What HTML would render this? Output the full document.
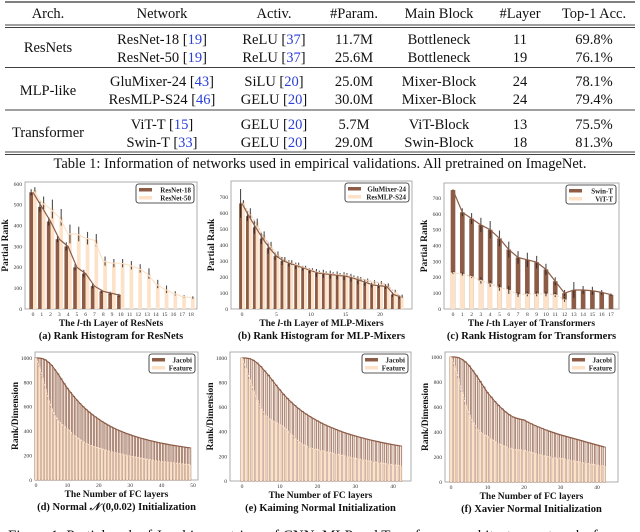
<!DOCTYPE html>
<html><head><meta charset="utf-8"><style>
html,body{margin:0;padding:0;background:#fff;width:640px;height:532px;overflow:hidden}
svg{display:block}
text{font-family:"Liberation Serif",serif}
</style></head><body>
<svg id="fig" width="640" height="532" viewBox="0 0 640 532" xmlns="http://www.w3.org/2000/svg">
<g id="table" font-size="14.5" fill="#111">
<line x1="5" y1="2" x2="635" y2="2" stroke="#000" stroke-width="1"/>
<line x1="5" y1="25" x2="635" y2="25" stroke="#000" stroke-width="0.8"/>
<line x1="5" y1="27.5" x2="635" y2="27.5" stroke="#000" stroke-width="0.8"/>
<line x1="5" y1="67.5" x2="635" y2="67.5" stroke="#000" stroke-width="0.8"/>
<line x1="5" y1="110" x2="635" y2="110" stroke="#000" stroke-width="0.8"/>
<line x1="5" y1="152" x2="635" y2="152" stroke="#000" stroke-width="0.8"/>
<line x1="5" y1="154.5" x2="635" y2="154.5" stroke="#000" stroke-width="0.8"/>
<g text-anchor="middle">
<text x="48" y="18">Arch.</text>
<text x="162" y="18">Network</text>
<text x="274" y="18">Activ.</text>
<text x="354" y="18">#Param.</text>
<text x="439" y="18">Main Block</text>
<text x="520" y="18">#Layer</text>
<text x="594" y="18">Top-1 Acc.</text>
<text x="48" y="52">ResNets</text>
<text x="48" y="95">MLP-like</text>
<text x="48" y="137">Transformer</text>
<text x="162" y="44">ResNet-18 [<tspan fill="#2b3fd6">19</tspan>]</text>
<text x="162" y="62">ResNet-50 [<tspan fill="#2b3fd6">19</tspan>]</text>
<text x="162" y="86">GluMixer-24 [<tspan fill="#2b3fd6">43</tspan>]</text>
<text x="162" y="104">ResMLP-S24 [<tspan fill="#2b3fd6">46</tspan>]</text>
<text x="162" y="129">ViT-T [<tspan fill="#2b3fd6">15</tspan>]</text>
<text x="162" y="147">Swin-T [<tspan fill="#2b3fd6">33</tspan>]</text>
<text x="274" y="44">ReLU [<tspan fill="#2b3fd6">37</tspan>]</text>
<text x="274" y="62">ReLU [<tspan fill="#2b3fd6">37</tspan>]</text>
<text x="274" y="86">SiLU [<tspan fill="#2b3fd6">20</tspan>]</text>
<text x="274" y="104">GELU [<tspan fill="#2b3fd6">20</tspan>]</text>
<text x="274" y="129">GELU [<tspan fill="#2b3fd6">20</tspan>]</text>
<text x="274" y="147">GELU [<tspan fill="#2b3fd6">20</tspan>]</text>
<text x="354" y="44">11.7M</text><text x="354" y="62">25.6M</text>
<text x="354" y="86">25.0M</text><text x="354" y="104">30.0M</text>
<text x="354" y="129">5.7M</text><text x="354" y="147">29.0M</text>
<text x="439" y="44">Bottleneck</text><text x="439" y="62">Bottleneck</text>
<text x="439" y="86">Mixer-Block</text><text x="439" y="104">Mixer-Block</text>
<text x="439" y="129">ViT-Block</text><text x="439" y="147">Swin-Block</text>
<text x="520" y="44">11</text><text x="520" y="62">19</text>
<text x="520" y="86">24</text><text x="520" y="104">24</text>
<text x="520" y="129">13</text><text x="520" y="147">18</text>
<text x="594" y="44">69.8%</text><text x="594" y="62">76.1%</text>
<text x="594" y="86">78.1%</text><text x="594" y="104">79.4%</text>
<text x="594" y="129">75.5%</text><text x="594" y="147">81.3%</text>
</g>
<text x="320" y="168" text-anchor="middle" font-size="14.5">Table 1: Information of networks used in empirical validations. All pretrained on ImageNet.</text>
</g>
<text x="8" y="540" font-size="15" fill="#111">Figure 1: Partial rank of Jacobian matrices of CNN, MLP and Transformer architecture networks for</text>
</svg>
<script>
// ---- data ----
const resnet18 = [560,490,420,335,300,200,170,110,85,75,65];
const resnet18Err = [15,25,20,15,20,15,18,12,8,8,8];
const resnet50 = [570,510,480,440,360,360,340,330,230,220,220,210,195,170,120,95,75,60,55];
const resnet50Err = [15,30,45,40,45,35,30,30,22,20,20,20,20,25,20,18,10,6,6];
const gluMixer = [660,580,510,440,380,330,300,285,270,255,240,225,220,215,210,205,195,180,165,150,145,140,90,75];
const gluErr = [90,30,40,35,35,25,25,20,20,15,15,25,25,25,25,25,25,25,20,15,15,15,15,10];
const resMLP = [670,600,540,460,400,340,310,290,275,260,245,230,225,220,215,215,200,190,180,170,165,150,110,80];
const resMLPErr = [10,30,25,25,20,20,15,15,15,10,10,10,10,10,10,10,10,10,10,10,10,10,10,10];
const swinT = [750,610,570,530,500,445,375,325,310,295,250,175,100,120,120,115,105,90];
const swinErr = [5,25,35,45,55,50,50,40,45,40,35,25,20,50,25,25,15,8];
const vitT = [230,220,205,180,160,135,120,90,95,95,95,90,60];
const vitErr = [10,10,10,20,20,20,25,15,15,15,15,15,15];
const jacobiD = [1000,1000,995,985,965,940,905,870,830,790,752,718,686,656,628,602,578,556,535,516,498,481,465,450,436,423,411,400,390,380,371,362,354,346,339,332,325,319,313,307,302,297,292,287,283,279,275,271,267,264];
const featureD = [1000,930,840,750,660,590,530,490,460,440,420,395,370,350,332,315,300,288,278,270,262,254,246,239,232,226,220,214,208,202,196,191,186,181,176,171,167,163,159,155,152,149,146,143,140,137,134,131,128,125];
const jacobiE = [1000,1000,995,982,960,930,895,860,820,780,742,705,672,642,614,588,565,544,524,506,489,472,457,443,430,418,406,395,385,375,366,357,349,341,334,327,320,313,307,301,295,290,285];
const featureE = [1000,920,830,740,660,590,540,510,490,475,462,440,410,380,350,320,300,285,270,262,255,248,240,233,226,219,212,205,198,191,184,178,172,166,160,155,150,145,140,136,132,128,125];
const jacobiF = [1000,1000,995,982,960,930,890,850,805,760,715,680,645,614,586,560,538,520,510,502,496,480,466,452,440,428,417,406,396,386,377,369,361,353,345,337,329,320,312,304,296,288,280];
const featureF = [1000,930,830,720,620,540,480,430,400,380,365,345,325,308,294,282,272,264,258,256,255,245,236,228,220,213,206,200,194,192,190,184,178,172,166,160,155,150,145,140,135,131,128];
const ticksA = [0,1,2,3,4,5,6,7,8,9,10,11,12,13,14,15,16,17,18];
const ticksB = [0,5,10,15,20];
const ticksC = [0,1,2,3,4,5,6,7,8,9,10,11,12,13,14,15,16,17];
const ticksBottom = [0,10,20,30,40,50];
const ticksBottomE = [0,10,20,30,40];
const yTicksA = [0,100,200,300,400,500,600];
const yTicks7 = [0,100,200,300,400,500,600,700];
const yTicksBottom = [0,200,400,600,800,1000];

const NS = 'http://www.w3.org/2000/svg';
const svg = document.getElementById('fig');
const DARK = '#8d5c47', LIGHT = '#fde2c8', ERR = '#222';
function mk(tag, attrs, parent){
  const e = document.createElementNS(NS, tag);
  for (const k in attrs) e.setAttribute(k, attrs[k]);
  (parent||svg).appendChild(e);
  return e;
}
function chart(c){
  const g = mk('g', {});
  
  
  const sx = v => c.x0 + (v - c.xmin) * (c.x1 - c.x0) / (c.xmax - c.xmin);
  const sy = v => c.y0 - v * (c.y0 - c.yTop) / c.ymax;
  const fr = mk('rect', {x:c.L, y:c.T, width:c.R-c.L, height:c.B-c.T, fill:'#fff', stroke:'#999', 'stroke-width':0.8}, g);
  
  
  const step = (c.x1 - c.x0)/(c.xmax - c.xmin);
  c.series.forEach((s, si) => {
    const bw = step * c.bw;
    s.data.forEach((v, i) => {
      const x = sx(i) + (c.off ? (si===0 ? -bw*0.5 : bw*0.5) : 0);
      const r = mk('rect', {x:x-bw/2, y:sy(v), width:bw, height:c.y0-sy(v), fill:s.fill, stroke:s.stroke||'none', 'stroke-width':s.sw||0}, g);
      
      
      if (s.err){
        const e = mk('line', {x1:x, x2:x, y1:sy(v - s.err[i]), y2:sy(v + s.err[i]), stroke:ERR, 'stroke-width':1.1, opacity:0.8}, g);
        
        
      }
    });
  });
  c.series.forEach((s) => {
    const pts = s.data.map((v, i) => sx(i) + ',' + sy(v)).join(' ');
    const p = mk('polyline', {points:pts, fill:'none', stroke:s.line, 'stroke-width':1.2, 'stroke-dasharray':s.dash||'none'}, g);
    
    
  });
  c.xt.forEach(t => {
    const tx = mk('text', {x:sx(t), y:c.B+7, 'font-size':5.6, 'text-anchor':'middle', fill:'#333', 'font-family':'Liberation Sans, sans-serif'}, g);
    tx.textContent = t;
    
    
  });
  c.yt.forEach(t => {
    const ty = mk('text', {x:c.L-3, y:sy(t)+1.9, 'font-size':5.6, 'text-anchor':'end', fill:'#333', 'font-family':'Liberation Sans, sans-serif'}, g);
    ty.textContent = t;
    
    
  });
  const xl = mk('text', {x:(c.L+c.R)/2, y:c.B+17, 'font-size':9.5, 'font-weight':'bold', 'text-anchor':'middle', fill:'#111'}, g);
  xl.innerHTML = c.xlabel;
  
  
  const yl = mk('text', {x:0, y:0, 'font-size':9.5, 'font-weight':'bold', 'text-anchor':'middle', fill:'#111', transform:'translate(' + (c.L-17) + ',' + ((c.T+c.B)/2) + ') rotate(-90)'}, g);
  yl.textContent = c.ylabel;
  
  
  const st = mk('text', {x:(c.L+c.R)/2, y:c.B+30, 'font-size':10.5, 'font-weight':'bold', 'text-anchor':'middle', fill:'#111'}, g);
  st.innerHTML = c.sub;
  
  
  const lw = c.lw, lx = c.R - lw - 3, ly = c.T + 2;
  const lg = mk('g', {}, g);
  
  
  mk('rect', {x:lx, y:ly, width:lw, height:19, rx:2.5, fill:'#fff', stroke:'#222', 'stroke-width':0.8}, lg);
  c.series.forEach((s, si) => {
    const le = mk('g', {}, lg);
    
    
    mk('rect', {x:lx+3, y:ly+4+si*8, width:13, height:3.5, fill:s.legend}, le);
    const t = mk('text', {x:lx+lw-3, y:ly+8.3+si*8, 'font-size':7, 'font-weight':'bold', 'text-anchor':'end', fill:'#222'}, le);
    t.textContent = s.label;
  });
}
chart({name:'chart-a-resnets', L:25, R:197, T:182, B:309, x0:33, x1:191, xmin:0, xmax:18, y0:309, yTop:184, ymax:600,
  bw:0.42, off:true, xt:ticksA, yt:yTicksA, lw:58,
  xlabel:'The <tspan font-style="italic">l</tspan>-th Layer of ResNets', ylabel:'Partial Rank', sub:'(a) Rank Histogram for ResNets',
  series:[
   {key:'resnet-18', label:'ResNet-18', data:resnet18, err:resnet18Err, fill:DARK, line:DARK, legend:DARK},
   {key:'resnet-50', label:'ResNet-50', data:resnet50, err:resnet50Err, fill:LIGHT, line:LIGHT, legend:LIGHT}]});
chart({name:'chart-b-mlp-mixers', L:231, R:412, T:181, B:309, x0:242, x1:380, xmin:0, xmax:20, y0:309, yTop:197, ymax:700,
  bw:0.42, off:true, xt:ticksB, yt:yTicks7, lw:64,
  xlabel:'The <tspan font-style="italic">l</tspan>-th Layer of MLP-Mixers', ylabel:'Partial Rank', sub:'(b) Rank Histogram for MLP-Mixers',
  series:[
   {key:'glumixer-24', label:'GluMixer-24', data:gluMixer, err:gluErr, fill:DARK, line:DARK, legend:DARK},
   {key:'resmlp-s24', label:'ResMLP-S24', data:resMLP, err:resMLPErr, fill:LIGHT, line:'#e8c2a4', dash:'2,1.5', legend:LIGHT}]});
chart({name:'chart-c-transformers', L:444, R:619, T:183, B:309, x0:453, x1:611, xmin:0, xmax:17, y0:309, yTop:198, ymax:700,
  bw:0.5, off:false, xt:ticksC, yt:yTicks7, lw:50,
  xlabel:'The <tspan font-style="italic">l</tspan>-th Layer of Transformers', ylabel:'Partial Rank', sub:'(c) Rank Histogram for Transformers',
  series:[
   {key:'swin-t', label:'Swin-T', data:swinT, err:swinErr, fill:DARK, line:DARK, legend:DARK},
   {key:'vit-t', label:'ViT-T', data:vitT, err:vitErr, fill:LIGHT, line:'#f5d8bf', dash:'2,1.5', legend:LIGHT}]});
chart({name:'chart-d-normal-init', L:35, R:198, T:352, B:480, x0:36, x1:193, xmin:0, xmax:50, y0:480, yTop:358, ymax:1000,
  bw:0.62, off:false, xt:ticksBottom, yt:yTicksBottom, lw:46,
  xlabel:'The Number of FC layers', ylabel:'Rank/Dimension', sub:'(d) Normal <tspan font-style="italic">𝒩</tspan> (0,0.02) Initialization',
  series:[
   {key:'jacobi', label:'Jacobi', data:jacobiD, fill:'#f6e9e0', stroke:DARK, sw:0.7, line:DARK, legend:DARK},
   {key:'feature', label:'Feature', data:featureD, fill:LIGHT, line:'#f9dcc4', dash:'2,1', legend:LIGHT}]});
chart({name:'chart-e-kaiming-init', L:230, R:411, T:352, B:481, x0:242, x1:393, xmin:0, xmax:40, y0:481, yTop:358, ymax:1000,
  bw:0.62, off:false, xt:ticksBottomE, yt:yTicksBottom, lw:46,
  xlabel:'The Number of FC layers', ylabel:'Rank/Dimension', sub:'(e) Kaiming Normal Initialization',
  series:[
   {key:'jacobi', label:'Jacobi', data:jacobiE, fill:'#f6e9e0', stroke:DARK, sw:0.7, line:DARK, legend:DARK},
   {key:'feature', label:'Feature', data:featureE, fill:LIGHT, line:'#f9dcc4', dash:'2,1', legend:LIGHT}]});
chart({name:'chart-f-xavier-init', L:445, R:618, T:352, B:482, x0:451, x1:597, xmin:0, xmax:40, y0:482, yTop:357, ymax:1000,
  bw:0.62, off:false, xt:ticksBottomE, yt:yTicksBottom, lw:46,
  xlabel:'The Number of FC layers', ylabel:'Rank/Dimension', sub:'(f) Xavier Normal Initialization',
  series:[
   {key:'jacobi', label:'Jacobi', data:jacobiF, fill:'#f6e9e0', stroke:DARK, sw:0.7, line:DARK, legend:DARK},
   {key:'feature', label:'Feature', data:featureF, fill:LIGHT, line:'#f9dcc4', dash:'2,1', legend:LIGHT}]});
</script>
</body></html>
